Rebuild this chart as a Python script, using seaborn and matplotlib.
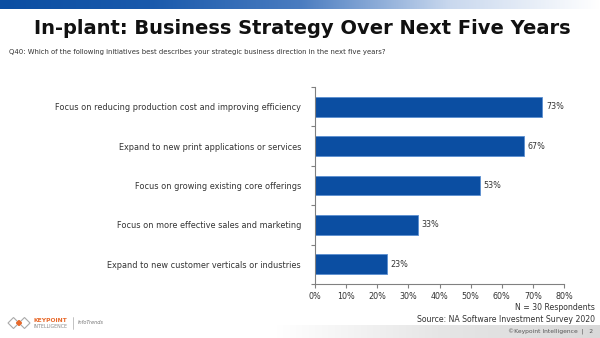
import numpy as np
import pandas as pd
import matplotlib
matplotlib.use("Agg")
import matplotlib.pyplot as plt
import seaborn as sns
from matplotlib.patches import Polygon
from matplotlib.colors import LinearSegmentedColormap

categories = [
    "Focus on reducing production cost and improving efficiency",
    "Expand to new print applications or services",
    "Focus on growing existing core offerings",
    "Focus on more effective sales and marketing",
    "Expand to new customer verticals or industries",
]
values = [73, 67, 53, 33, 23]
xticks = [0, 10, 20, 30, 40, 50, 60, 70, 80]

sns.set_theme(style="white")
plt.rcParams['font.family'] = ['DejaVu Sans']

fig = plt.figure(figsize=(6, 3.38), dpi=100)
fig.patch.set_facecolor("white")

grad = np.linspace(0, 1, 256).reshape(1, -1)

# top gradient band
band = fig.add_axes([0, 1 - 9/338, 1, 9/338])
cm_top = LinearSegmentedColormap.from_list("t", ["#0B4EA2", "#1a5aac", "#4a7cc0", "#c9d8ee", "#ffffff"])
band.imshow(grad, aspect="auto", cmap=cm_top, extent=[0, 1, 0, 1])
band.axis("off")

# bottom gray band
bb = fig.add_axes([0.46, 0, 0.54, 13/338])
cm_bot = LinearSegmentedColormap.from_list("b", ["#ffffff", "#e6e6e6", "#d9d9d9"])
bb.imshow(grad, aspect="auto", cmap=cm_bot, extent=[0, 1, 0, 1])
bb.axis("off")

fig.text(302/600, 1 - 28/338, "In-plant: Business Strategy Over Next Five Years",
         ha="center", va="center", fontsize=14.0, fontweight="bold", color="#111111")
fig.text(9/600, 1 - 52/338,
         "Q40: Which of the following initiatives best describes your strategic business direction in the next five years?",
         ha="left", va="center", fontsize=4.95, color="#333333")

ax = fig.add_axes([315/600, 1 - 284/338, (564 - 315)/600, (284 - 87)/338])
df = pd.DataFrame({"cat": categories, "val": values})
sns.barplot(data=df, x="val", y="cat", orient="h", color="#0B4EA2", width=0.5,
            saturation=1, edgecolor="#5b8fd0", linewidth=0.6, ax=ax)
ax.set_xlim(0, 80)
ax.set_ylim(len(categories) - 0.5, -0.5)
ax.set_xticks(xticks)
ax.set_xticklabels([f"{t}%" for t in xticks], fontsize=5.8, color="#333333")
ax.set_yticks(range(len(categories)))
ax.set_yticklabels(categories, fontsize=5.9, color="#333333", fontweight="medium")
ax.set_xlabel("")
ax.set_ylabel("")
for s in ["top", "right"]:
    ax.spines[s].set_visible(False)
for s in ["left", "bottom"]:
    ax.spines[s].set_color("#808080")
    ax.spines[s].set_linewidth(0.8)
ax.tick_params(axis="y", length=0, pad=10)
ax.tick_params(axis="x", length=3, color="#808080", width=0.8, pad=3, direction="out", bottom=True)
ax.set_yticks(np.arange(-0.5, len(categories), 1), minor=True)
ax.tick_params(axis="y", which="minor", length=3, color="#808080", width=0.8, left=True, direction="out")

for i, v in enumerate(values):
    ax.text(v + 1.2, i, f"{v}%", va="center", ha="left", fontsize=5.8, color="#333333")

fig.text(595/600, 1 - 307/338, "N = 30 Respondents", ha="right", va="center", fontsize=5.6, color="#333333")
fig.text(595/600, 1 - 319/338, "Source: NA Software Investment Survey 2020", ha="right", va="center", fontsize=5.6, color="#333333")
fig.text(593/600, 1 - 332/338, "\u00a9Keypoint Intelligence  |   2", ha="right", va="center", fontsize=4.3, color="#555555")

# logo
lg = fig.add_axes([7/600, 1 - 332/338, 24/600, 18/338])
lg.set_xlim(0, 24); lg.set_ylim(0, 18); lg.axis("off")
lg.add_patch(Polygon([[1, 9], [6.5, 14.5], [12, 9], [6.5, 3.5]], closed=True, fill=False, edgecolor="#aaaaaa", lw=0.8))
lg.add_patch(Polygon([[12, 9], [17.5, 14.5], [23, 9], [17.5, 3.5]], closed=True, fill=False, edgecolor="#aaaaaa", lw=0.8))
lg.add_patch(Polygon([[9.5, 9], [12, 11.5], [14.5, 9], [12, 6.5]], closed=True, color="#E8692A"))
fig.text(34/600, 1 - 320/338, "KEYPOINT", fontsize=4.3, fontweight="bold", color="#E8692A", va="center")
fig.text(34/600, 1 - 326/338, "INTELLIGENCE", fontsize=3.4, color="#888888", va="center")
fig.add_artist(plt.Line2D([73/600, 73/600], [1 - 329/338, 1 - 317/338], color="#aaaaaa", lw=0.5))
fig.text(78/600, 1 - 323/338, "InfoTrends", fontsize=3.6, style="italic", color="#777777", va="center")

fig.savefig("out.png", dpi=100)
